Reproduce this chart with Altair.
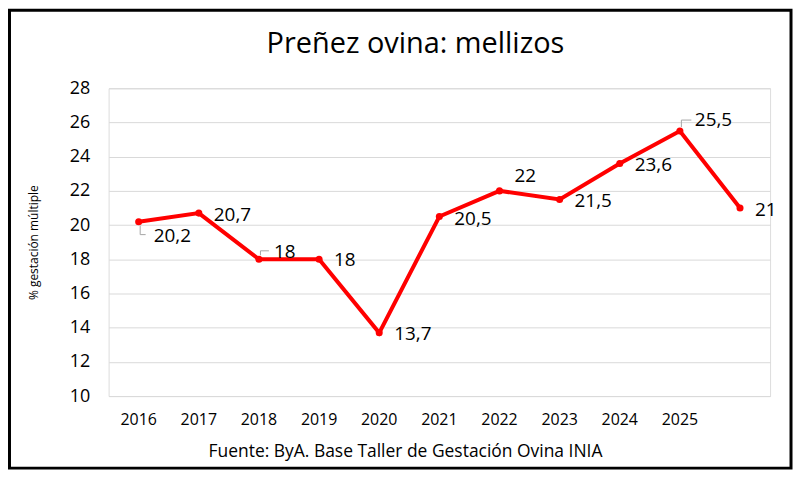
import altair as alt
import pandas as pd

categories = ["2016", "2017", "2018", "2019", "2020", "2021", "2022", "2023", "2024", "2025", ""]
values = [20.2, 20.7, 18, 18, 13.7, 20.5, 22, 21.5, 23.6, 25.5, 21]
labels = ["20,2", "20,7", "18", "18", "13,7", "20,5", "22", "21,5", "23,6", "25,5", "21"]
y_ticks = [10, 12, 14, 16, 18, 20, 22, 24, 26, 28]
title_text = ["Preñez ovina: mellizos"]

# label placement (pixel offsets from each point), style only
label_dy = [14, 2, -7, 1, 1.5, 2, -15, 2, 2, -11, 2]
# leader lines: index -> (vertical from, vertical to, horizontal end x)
leaders = {0: (4, 13, 7), 2: (-4, -8.5, 10), 9: (-4, -11, 11.5)}

df = pd.DataFrame({"idx": list(range(len(categories))), "cat": categories,
                   "val": values, "lab": labels})

FONT = "Open Sans"
RED = "#ff0000"
GREY = "#a6a6a6"

x_enc = alt.X(
    "cat:O",
    sort=None,
    scale=alt.Scale(domain=categories),
    axis=alt.Axis(
        labelAngle=0, labelFontSize=16, labelColor="black", labelFont=FONT,
        labelPadding=16, ticks=False, tickSize=0, domain=False, grid=False,
        labelOverlap=False,
        title="Fuente: ByA. Base Taller de Gestación Ovina INIA",
        titleFont=FONT, titleFontSize=17.5, titleFontWeight="normal", titleColor="black",
        titleX=297.5, titleY=60.3, titleBaseline="alphabetic", titleAlign="center",
    ),
)
y_enc = alt.Y(
    "val:Q",
    scale=alt.Scale(domain=[10, 28], nice=False, zero=False),
    axis=alt.Axis(
        values=y_ticks, labelFontSize=18, labelColor="black", labelFont=FONT,
        labelPadding=19, ticks=False, tickSize=0, domain=False, grid=True,
        labelOverlap=False, gridColor="#d9d9d9", gridWidth=1,
        title="% gestación múltiple", titleFont=FONT, titleFontSize=12,
        titleFontWeight="normal", titleColor="black",
        titleX=-75, titleY=154.5, titleAngle=270, titleBaseline="middle", titleAlign="center",
    ),
)

base = alt.Chart(df)

layers = []

# leader lines
for i, (v0, v1, hx) in leaders.items():
    sel = base.transform_filter(alt.datum.idx == i)
    layers.append(
        sel.mark_rule(color=GREY, strokeWidth=1, xOffset=1.5, yOffset=v0, y2Offset=v1).encode(
            x=x_enc, y=y_enc, y2="val:Q"
        )
    )
    layers.append(
        sel.mark_rule(color=GREY, strokeWidth=1, xOffset=1.5, x2Offset=hx, yOffset=v1).encode(
            x=x_enc, x2="cat:O", y=y_enc
        )
    )

line = base.mark_line(color=RED, strokeWidth=4, point=alt.OverlayMarkDef(color=RED, size=50, filled=True, opacity=1)).encode(
    x=x_enc, y=y_enc
)
layers.append(line)

# point labels, one layer per distinct offset
for dy in sorted(set(label_dy)):
    idxs = [i for i, d in enumerate(label_dy) if d == dy]
    layers.append(
        base.transform_filter(alt.FieldOneOfPredicate(field="idx", oneOf=idxs))
        .mark_text(align="left", baseline="middle", dx=15, dy=dy, fontSize=19, font=FONT, color="black")
        .encode(x=x_enc, y=y_enc, text="lab:N")
    )

title = alt.Chart(pd.DataFrame({"t": title_text})).mark_text(
    align="center", baseline="alphabetic", fontSize=29, font=FONT, color="black"
).encode(x=alt.value(308), y=alt.value(-35.2), text="t:N")
layers.append(title)

frame = alt.Chart(pd.DataFrame({"a": [0]})).mark_rect(
    filled=False, stroke="black", strokeWidth=3
).encode(
    x=alt.value(-99.5), x2=alt.value(685), y=alt.value(-78.2), y2=alt.value(381.3)
)
layers.append(frame)

chart = alt.layer(*layers).properties(
    width=664,
    height=309,
    autosize=alt.AutoSizeParams(type="none"),
    padding={"left": 101, "top": 79.7, "right": 24, "bottom": 74},
).configure_view(stroke=None).configure(background="white")

chart.save("out.html", embed_options={"renderer": "svg", "actions": False})
